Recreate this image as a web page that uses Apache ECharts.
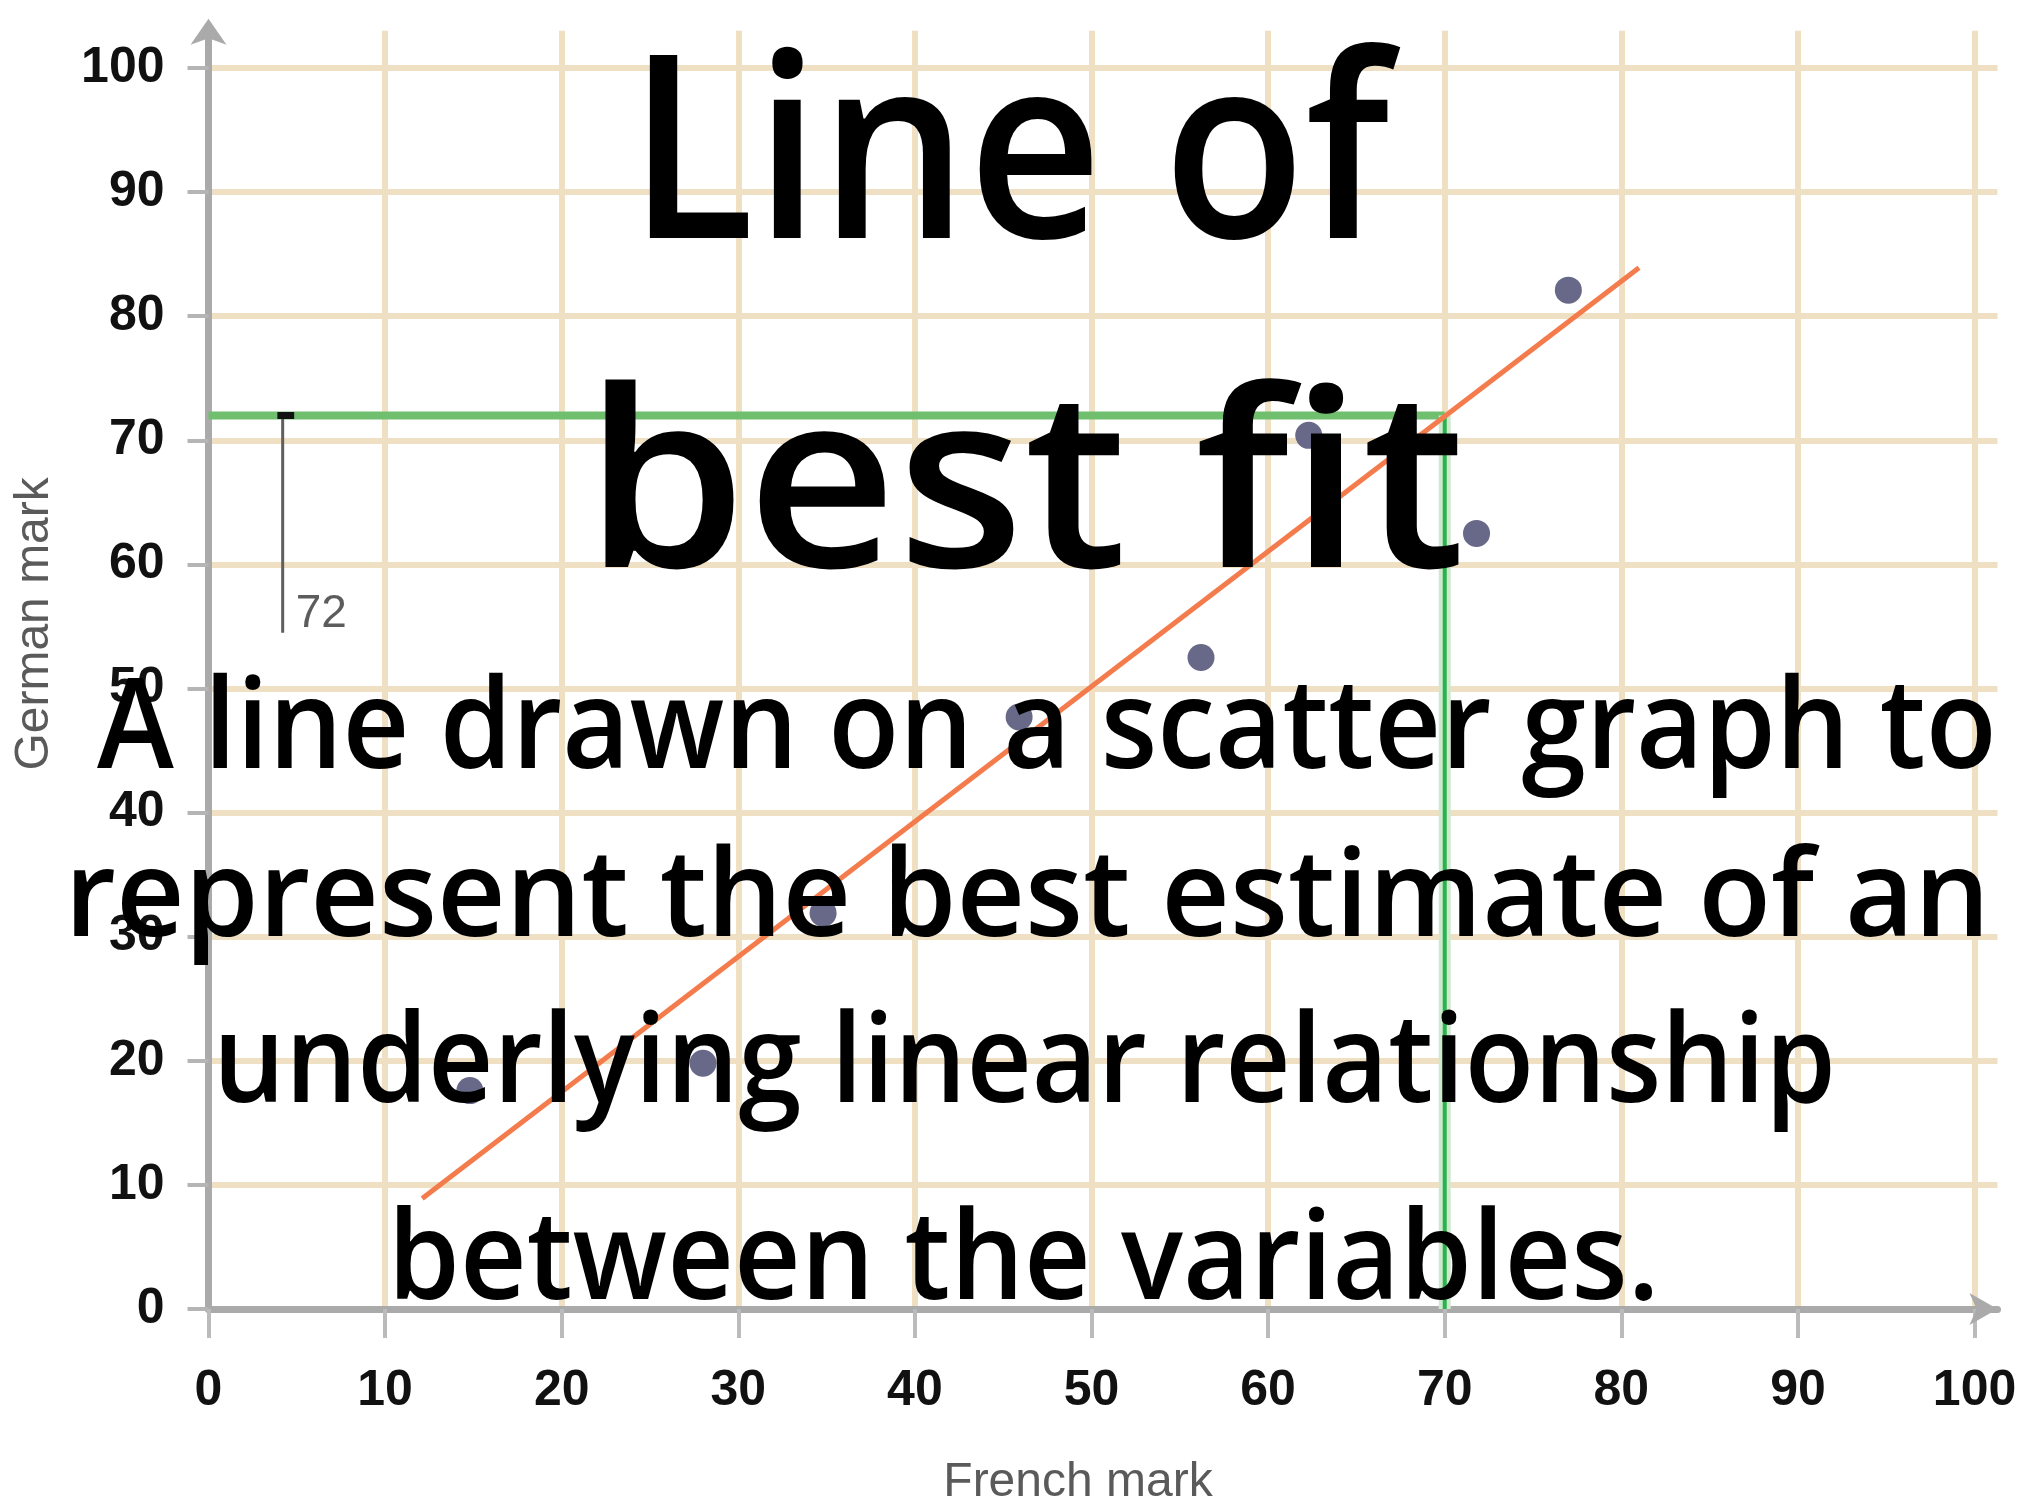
<!DOCTYPE html>
<html>
<head>
<meta charset="utf-8">
<title>Line of best fit</title>
<script src="https://cdn.jsdelivr.net/npm/echarts@6/dist/echarts.min.js"></script>
<style>
  html, body { margin: 0; padding: 0; background: #ffffff; }
  #chart { width: 2028px; height: 1502px; }
</style>
</head>
<body>
<div id="chart"></div>
<script>
// ---- data ----
const tickValues = [0, 10, 20, 30, 40, 50, 60, 70, 80, 90, 100];
const frenchMarks = [14.8, 28.0, 34.8, 45.9, 56.2, 62.3, 71.8, 77.0];
const germanMarks = [17.6, 19.8, 31.9, 47.7, 52.5, 70.4, 62.5, 82.1];
const fitStart = [12.1, 8.9];
const fitEnd = [81.0, 83.9];
const readFrench = 70;
const readGerman = 72;
const rulerX = 4.2;
const rulerBottom = 54.5;
const rulerCap = [3.9, 4.85];
const titleLines = ['Line of', 'best fit'];
const definitionLines = [
  'A line drawn on a scatter graph to',
  'represent the best estimate of an',
  'underlying linear relationship',
  'between the variables.'
];

// ---- text layout: each line is fitted into an ink box (left, right, top, baseline) ----
const TEXT_FONT = "600 100px 'Open Sans'";
const textBoxes = [
  { left: 649, right: 1401, top: 41, baseline: 238 },
  { left: 605, right: 1459, top: 377, baseline: 567 },
  { left: 97, right: 1992, top: 673, baseline: 768 },
  { left: 74, right: 1981, top: 842, baseline: 936 },
  { left: 221, right: 1831, top: 1009, baseline: 1102 },
  { left: 397, right: 1652, top: 1205, baseline: 1299 }
];

const measureCtx = document.createElement('canvas').getContext('2d');
function fittedText(str, box) {
  measureCtx.font = TEXT_FONT;
  measureCtx.textAlign = 'left';
  measureCtx.textBaseline = 'alphabetic';
  const mA = measureCtx.measureText(str);
  measureCtx.textBaseline = 'middle';
  const mM = measureCtx.measureText(str);
  const ascAlpha = mA.actualBoundingBoxAscent;
  const ascMid = mM.actualBoundingBoxAscent;
  const inkW = mA.actualBoundingBoxLeft + mA.actualBoundingBoxRight;
  const sy = (box.baseline - box.top) / ascAlpha;
  const sx = (box.right - box.left) / inkW;
  return {
    type: 'text',
    x: box.left + mA.actualBoundingBoxLeft * sx,
    y: box.top + ascMid * sy,
    scaleX: sx,
    scaleY: sy,
    z: 100,
    silent: true,
    style: {
      text: str,
      font: TEXT_FONT,
      fill: '#000000',
      x: 0,
      y: 0,
      align: 'left',
      verticalAlign: 'middle',
      textAlign: 'left',
      textVerticalAlign: 'middle'
    }
  };
}

const allLines = titleLines.concat(definitionLines);
const textElements = allLines.map((s, i) => fittedText(s, textBoxes[i]));

const GRID_COLOR = '#f0e0c3';
const AXIS_COLOR = '#aaaaaa';

const chart = echarts.init(document.getElementById('chart'), null, { renderer: 'canvas' });

chart.setOption({
  animation: false,
  backgroundColor: '#ffffff',
  grid: {
    left: 208.5,
    right: 30.5,
    top: 30.8,
    bottom: 193,
    containLabel: false,
    outerBoundsMode: 'none'
  },
  xAxis: {
    type: 'value',
    min: 0,
    max: 101.3,
    interval: 10,
    name: 'French mark',
    nameLocation: 'middle',
    nameGap: 150,
    nameTextStyle: {
      fontFamily: 'Liberation Sans',
      fontSize: 48,
      color: '#5a5a5a',
      padding: [0, 50, 0, 0]
    },
    axisLine: {
      show: true,
      lineStyle: { color: AXIS_COLOR, width: 7 },
      symbol: ['none', 'arrow'],
      symbolSize: [24, 28],
      symbolOffset: [0, 0]
    },
    axisTick: {
      show: true,
      inside: false,
      length: 29,
      lineStyle: { color: '#bbbbbb', width: 4 },
      customValues: tickValues
    },
    axisLabel: {
      customValues: tickValues,
      margin: 57,
      fontFamily: 'Liberation Sans',
      fontWeight: 'bold',
      fontSize: 50,
      color: '#111111'
    },
    splitLine: {
      show: true,
      lineStyle: { color: GRID_COLOR, width: 6 }
    }
  },
  yAxis: {
    type: 'value',
    min: 0,
    max: 103,
    interval: 10,
    name: 'German mark',
    nameLocation: 'middle',
    nameRotate: 90,
    nameGap: 150,
    nameTextStyle: {
      fontFamily: 'Liberation Sans',
      fontSize: 48,
      color: '#5a5a5a',
      padding: [0, 0, 0, 92]
    },
    axisLine: {
      show: true,
      lineStyle: { color: AXIS_COLOR, width: 7 },
      symbol: ['none', 'arrow'],
      symbolSize: [27, 26],
      symbolOffset: [0, 12]
    },
    axisTick: {
      show: true,
      inside: false,
      length: 21,
      lineStyle: { color: '#b5b5b5', width: 4 },
      customValues: tickValues
    },
    axisLabel: {
      customValues: tickValues,
      margin: 44,
      fontFamily: 'Liberation Sans',
      fontWeight: 'bold',
      fontSize: 50,
      color: '#111111'
    },
    splitLine: {
      show: true,
      lineStyle: { color: GRID_COLOR, width: 6 }
    }
  },
  series: [
    {
      // reading guide: across from the German axis
      type: 'line',
      z: 2,
      symbol: 'none',
      lineStyle: { color: '#6fbf6f', width: 8 },
      data: [[0, readGerman], [readFrench, readGerman]]
    },
    {
      // reading guide: down to the French axis (soft halo)
      type: 'line',
      z: 2,
      symbol: 'none',
      lineStyle: { color: '#cfe9cf', width: 12 },
      data: [[readFrench, readGerman], [readFrench, 0]]
    },
    {
      type: 'line',
      z: 3,
      symbol: 'none',
      lineStyle: { color: '#2bb24c', width: 4 },
      data: [[readFrench, readGerman], [readFrench, 0]]
    },
    {
      // line of best fit
      type: 'line',
      z: 4,
      symbol: 'none',
      lineStyle: { color: '#f47b4c', width: 5 },
      data: [fitStart, fitEnd]
    },
    {
      type: 'scatter',
      z: 5,
      symbolSize: 27,
      itemStyle: { color: '#686889', opacity: 1 },
      data: frenchMarks.map((x, i) => [x, germanMarks[i]])
    },
    {
      // ruler marking the reading
      type: 'line',
      z: 6,
      symbol: 'none',
      lineStyle: { color: '#5f5f5f', width: 3 },
      data: [[rulerX, readGerman], [rulerX, rulerBottom]]
    },
    {
      type: 'line',
      z: 6,
      symbol: 'none',
      lineStyle: { color: '#111111', width: 7 },
      data: [[rulerCap[0], readGerman], [rulerCap[1], readGerman]]
    },
    {
      type: 'scatter',
      z: 6,
      symbolSize: 0,
      label: {
        show: true,
        formatter: String(readGerman),
        position: [13, 5],
        align: 'left',
        verticalAlign: 'bottom',
        fontFamily: 'Liberation Sans',
        fontSize: 46,
        color: '#333333'
      },
      data: [[rulerX, rulerBottom]]
    }
  ],
  graphic: { elements: textElements }
});
</script>
</body>
</html>
